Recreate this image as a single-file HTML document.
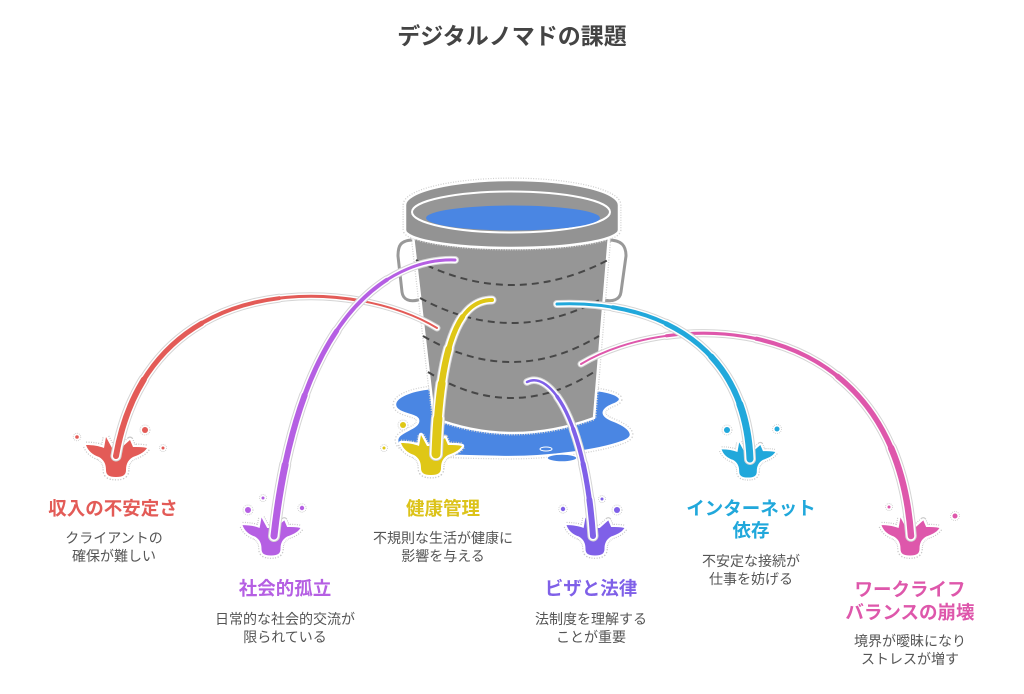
<!DOCTYPE html>
<html lang="ja">
<head>
<meta charset="utf-8">
<style>
  html,body{margin:0;padding:0;background:#fff;}
  body{width:1024px;height:694px;position:relative;overflow:hidden;
       font-family:"Liberation Sans","Noto Sans CJK JP",sans-serif;}
  svg{position:absolute;left:0;top:0;}
  .t{position:absolute;width:240px;text-align:center;font-weight:bold;font-size:18.5px;line-height:22px;white-space:nowrap;}
  .d{position:absolute;width:240px;text-align:center;font-size:14px;line-height:17.5px;color:#555;white-space:nowrap;}
  .title{position:absolute;left:0;top:21px;width:1024px;text-align:center;font-size:23px;line-height:30px;font-weight:bold;color:#444;}
  .s1{stroke-dasharray:100 100;stroke-dashoffset:-20}
  .s2{stroke-dasharray:100 100;stroke-dashoffset:-40}
  .s3{stroke-dasharray:100 100;stroke-dashoffset:-60}
  .s4{stroke-dasharray:100 100;stroke-dashoffset:-80}
</style>
</head>
<body>
<svg width="1024" height="694" viewBox="0 0 1024 694" xmlns="http://www.w3.org/2000/svg">
  <defs>
    <path id="sp" d="M -30,-3 C -23,-3 -17,-2 -12,0 L -10,-11 L -4,0 L 5,0 L 14,-8 L 17,-1 C 22,-1 27,-1 31,0 C 28,5 22,7 17,9 C 12,12 10,16 10,22 C 10,27 7,29 0,29 C -7,29 -10,27 -10,22 C -10,16 -12,12 -17,9 C -23,7 -28,3 -30,-3 Z"/>
    <path id="aR" d="M437,328 C360,280 150,262 116,456" pathLength="100" fill="none"/>
    <path id="aP" d="M455,260 C400,258 300,300 274,536" pathLength="100" fill="none"/>
    <path id="aY" d="M492,300 C460,300 440,340 436,454" pathLength="100" fill="none"/>
    <path id="aV" d="M527,382 C550,370 585,420 593,536" pathLength="100" fill="none"/>
    <path id="aC" d="M557,304 C650,300 745,340 750,459" pathLength="100" fill="none"/>
    <path id="aK" d="M581,364 C670,310 895,305 911,536" pathLength="100" fill="none"/>
  </defs>

  <!-- puddle -->
  <g>
    <path d="M 432,388 C 410,390 390,398 396,408 C 402,416 420,414 418,422 C 416,430 392,432 398,444 C 404,456 450,456 500,457 C 550,458 600,450 622,442 C 640,436 628,426 612,420 C 598,414 604,408 615,404 C 628,398 614,392 596,390 Z"
          fill="none" stroke="#cfcfcf" stroke-width="5" stroke-dasharray="1 1.5"/>
    <path d="M 432,388 C 410,390 390,398 396,408 C 402,416 420,414 418,422 C 416,430 392,432 398,444 C 404,456 450,456 500,457 C 550,458 600,450 622,442 C 640,436 628,426 612,420 C 598,414 604,408 615,404 C 628,398 614,392 596,390 Z"
          fill="#4a86e3" stroke="#fff" stroke-width="2.5"/>
    <ellipse cx="562" cy="458" rx="15" ry="4" fill="#4a86e3" stroke="#fff" stroke-width="1.5"/>
    <ellipse cx="546" cy="449" rx="6" ry="2" fill="#4a86e3" stroke="#fff" stroke-width="1"/>
  </g>

  <!-- handles -->
  <g fill="none" stroke-linecap="round">
    <path d="M414,240 C400,240 398,246 398,256 L402,292 C403,300 410,302 418,300" stroke="#fff" stroke-width="6"/>
    <path d="M414,240 C400,240 398,246 398,256 L402,292 C403,300 410,302 418,300" stroke="#999" stroke-width="3"/>
    <path d="M608,240 C622,240 626,246 626,256 L621,292 C620,300 612,302 604,300" stroke="#fff" stroke-width="6"/>
    <path d="M608,240 C622,240 626,246 626,256 L621,292 C620,300 612,302 604,300" stroke="#999" stroke-width="3"/>
  </g>

  <!-- body -->
  <path d="M413,236 L434,418 Q512,448 594,418 L609,236 Z" fill="none" stroke="#cfcfcf" stroke-width="5" stroke-dasharray="1 1.5"/>
  <path d="M413,236 L434,418 Q512,448 594,418 L609,236 Z" fill="#969696" stroke="#fff" stroke-width="2.5"/>

  <!-- dashed bands -->
  <g fill="none" stroke="#474747" stroke-width="2" stroke-dasharray="7 5">
    <path d="M416,260 Q512,310 608,260"/>
    <path d="M420,298 Q512,348 603,298"/>
    <path d="M423,336 Q512,388 599,336"/>
    <path d="M428,372 Q512,424 594,372"/>
  </g>

  <!-- rim -->
  <path d="M405,205 A107,25 0 0 1 619,205 L619,230 A107,18 0 0 1 405,230 Z" fill="none" stroke="#cfcfcf" stroke-width="5" stroke-dasharray="1 1.5"/>
  <path d="M405,205 A107,25 0 0 1 619,205 L619,230 A107,18 0 0 1 405,230 Z" fill="#939393" stroke="#fff" stroke-width="2.5"/>
  <ellipse cx="511" cy="212" rx="99" ry="20.5" fill="#969696" stroke="#fff" stroke-width="2"/>
  <ellipse cx="513" cy="218" rx="87" ry="12.5" fill="#4a86e3"/>

  <!-- splashes -->
  <g stroke-linejoin="round">
    <g stroke="#c8c8c8" stroke-width="7" stroke-dasharray="1 1.3" fill="none">
      <use href="#sp" transform="translate(116,448)"/>
      <use href="#sp" transform="translate(271,528) scale(0.95)"/>
      <use href="#sp" transform="translate(431,446)"/>
      <use href="#sp" transform="translate(595,528) scale(0.95)"/>
      <use href="#sp" transform="translate(748,452) scale(0.88)"/>
      <use href="#sp" transform="translate(910,528) scale(0.95)"/>
    </g>
    <g stroke="#fff" stroke-width="4.5" style="paint-order:stroke">
      <use href="#sp" transform="translate(116,448)" fill="#e35b57"/>
      <use href="#sp" transform="translate(271,528) scale(0.95)" fill="#b55fe3"/>
      <use href="#sp" transform="translate(431,446)" fill="#dfc716"/>
      <use href="#sp" transform="translate(595,528) scale(0.95)" fill="#7f60e8"/>
      <use href="#sp" transform="translate(748,452) scale(0.88)" fill="#21a8db"/>
      <use href="#sp" transform="translate(910,528) scale(0.95)" fill="#de57ab"/>
    </g>
  </g>

  <!-- droplets -->
  <g stroke="#c8c8c8" stroke-width="0.8" stroke-dasharray="1 1" fill="#fff">
    <circle cx="77" cy="437" r="3.8"/><circle cx="145" cy="430" r="5"/><circle cx="163" cy="448" r="3.5"/>
    <circle cx="248" cy="510" r="5"/><circle cx="263" cy="498" r="3.5"/><circle cx="302" cy="508" r="4.2"/>
    <circle cx="403" cy="425" r="5"/><circle cx="384" cy="448" r="3.5"/>
    <circle cx="563" cy="509" r="4.2"/><circle cx="602" cy="499" r="3.5"/><circle cx="617" cy="510" r="5"/>
    <circle cx="727" cy="430" r="5"/><circle cx="777" cy="429" r="4.5"/>
    <circle cx="889" cy="507" r="3.5"/><circle cx="955" cy="516" r="4.5"/>
  </g>
  <g>
    <circle cx="77" cy="437" r="1.8" fill="#e35b57"/><circle cx="145" cy="430" r="3" fill="#e35b57"/><circle cx="163" cy="448" r="1.5" fill="#e35b57"/>
    <circle cx="248" cy="510" r="3" fill="#b55fe3"/><circle cx="263" cy="498" r="1.5" fill="#b55fe3"/><circle cx="302" cy="508" r="2.2" fill="#b55fe3"/>
    <circle cx="403" cy="425" r="3" fill="#dfc716"/><circle cx="384" cy="448" r="1.5" fill="#dfc716"/>
    <circle cx="563" cy="509" r="2.2" fill="#7f60e8"/><circle cx="602" cy="499" r="1.5" fill="#7f60e8"/><circle cx="617" cy="510" r="3" fill="#7f60e8"/>
    <circle cx="727" cy="430" r="3" fill="#21a8db"/><circle cx="777" cy="429" r="2.5" fill="#21a8db"/>
    <circle cx="889" cy="507" r="1.5" fill="#de57ab"/><circle cx="955" cy="516" r="2.5" fill="#de57ab"/>
  </g>

  <!-- arcs (tapered) -->
  <g fill="none" stroke-linecap="round">
    <!-- pink -->
    <g stroke="#d4d4d4"><use href="#aK" stroke-width="7"/><use href="#aK" class="s1" stroke-width="8.1"/><use href="#aK" class="s2" stroke-width="9.2"/><use href="#aK" class="s3" stroke-width="10.4"/><use href="#aK" class="s4" stroke-width="11.5"/></g>
    <g stroke="#fff"><use href="#aK" stroke-width="5"/><use href="#aK" class="s1" stroke-width="6.1"/><use href="#aK" class="s2" stroke-width="7.2"/><use href="#aK" class="s3" stroke-width="8.4"/><use href="#aK" class="s4" stroke-width="9.5"/></g>
    <g stroke="#de57ab"><use href="#aK" stroke-width="2"/><use href="#aK" class="s1" stroke-width="3.1"/><use href="#aK" class="s2" stroke-width="4.2"/><use href="#aK" class="s3" stroke-width="5.4"/><use href="#aK" class="s4" stroke-width="6.5"/></g>
    <!-- cyan -->
    <g stroke="#d4d4d4"><use href="#aC" stroke-width="8"/><use href="#aC" class="s1" stroke-width="9"/><use href="#aC" class="s2" stroke-width="10"/><use href="#aC" class="s3" stroke-width="11"/><use href="#aC" class="s4" stroke-width="12"/></g>
    <g stroke="#fff"><use href="#aC" stroke-width="6"/><use href="#aC" class="s1" stroke-width="7"/><use href="#aC" class="s2" stroke-width="8"/><use href="#aC" class="s3" stroke-width="9"/><use href="#aC" class="s4" stroke-width="10"/></g>
    <g stroke="#21a8db"><use href="#aC" stroke-width="3"/><use href="#aC" class="s1" stroke-width="4"/><use href="#aC" class="s2" stroke-width="5"/><use href="#aC" class="s3" stroke-width="6"/><use href="#aC" class="s4" stroke-width="7"/></g>
    <!-- red -->
    <g stroke="#d4d4d4"><use href="#aR" stroke-width="7"/><use href="#aR" class="s1" stroke-width="8"/><use href="#aR" class="s2" stroke-width="9"/><use href="#aR" class="s3" stroke-width="10"/><use href="#aR" class="s4" stroke-width="11"/></g>
    <g stroke="#fff"><use href="#aR" stroke-width="5"/><use href="#aR" class="s1" stroke-width="6"/><use href="#aR" class="s2" stroke-width="7"/><use href="#aR" class="s3" stroke-width="8"/><use href="#aR" class="s4" stroke-width="9"/></g>
    <g stroke="#e35b57"><use href="#aR" stroke-width="2"/><use href="#aR" class="s1" stroke-width="3"/><use href="#aR" class="s2" stroke-width="4"/><use href="#aR" class="s3" stroke-width="5"/><use href="#aR" class="s4" stroke-width="6"/></g>
    <!-- purple -->
    <g stroke="#d4d4d4"><use href="#aP" stroke-width="8"/><use href="#aP" class="s1" stroke-width="9"/><use href="#aP" class="s2" stroke-width="10"/><use href="#aP" class="s3" stroke-width="11"/><use href="#aP" class="s4" stroke-width="12"/></g>
    <g stroke="#fff"><use href="#aP" stroke-width="6"/><use href="#aP" class="s1" stroke-width="7"/><use href="#aP" class="s2" stroke-width="8"/><use href="#aP" class="s3" stroke-width="9"/><use href="#aP" class="s4" stroke-width="10"/></g>
    <g stroke="#b55fe3"><use href="#aP" stroke-width="3"/><use href="#aP" class="s1" stroke-width="4"/><use href="#aP" class="s2" stroke-width="5"/><use href="#aP" class="s3" stroke-width="6"/><use href="#aP" class="s4" stroke-width="7"/></g>
    <!-- yellow -->
    <g stroke="#d4d4d4"><use href="#aY" stroke-width="9"/><use href="#aY" class="s1" stroke-width="10.2"/><use href="#aY" class="s2" stroke-width="11.5"/><use href="#aY" class="s3" stroke-width="12.8"/><use href="#aY" class="s4" stroke-width="14"/></g>
    <g stroke="#fff"><use href="#aY" stroke-width="7"/><use href="#aY" class="s1" stroke-width="8.2"/><use href="#aY" class="s2" stroke-width="9.5"/><use href="#aY" class="s3" stroke-width="10.8"/><use href="#aY" class="s4" stroke-width="12"/></g>
    <g stroke="#dfc716"><use href="#aY" stroke-width="4"/><use href="#aY" class="s1" stroke-width="5.2"/><use href="#aY" class="s2" stroke-width="6.5"/><use href="#aY" class="s3" stroke-width="7.8"/><use href="#aY" class="s4" stroke-width="9"/></g>
    <!-- violet -->
    <g stroke="#d4d4d4"><use href="#aV" stroke-width="7.5"/><use href="#aV" class="s1" stroke-width="8.4"/><use href="#aV" class="s2" stroke-width="9.2"/><use href="#aV" class="s3" stroke-width="10.1"/><use href="#aV" class="s4" stroke-width="11"/></g>
    <g stroke="#fff"><use href="#aV" stroke-width="5.5"/><use href="#aV" class="s1" stroke-width="6.4"/><use href="#aV" class="s2" stroke-width="7.2"/><use href="#aV" class="s3" stroke-width="8.1"/><use href="#aV" class="s4" stroke-width="9"/></g>
    <g stroke="#7f60e8"><use href="#aV" stroke-width="2.5"/><use href="#aV" class="s1" stroke-width="3.4"/><use href="#aV" class="s2" stroke-width="4.2"/><use href="#aV" class="s3" stroke-width="5.1"/><use href="#aV" class="s4" stroke-width="6"/></g>
  </g>
</svg>

<div class="title">デジタルノマドの課題</div>

<div class="t" style="left:-7px;top:498px;color:#e35b57;">収入の不安定さ</div>
<div class="d" style="left:-6px;top:530px;">クライアントの<br>確保が難しい</div>

<div class="t" style="left:165px;top:578px;color:#b55fe3;">社会的孤立</div>
<div class="d" style="left:165px;top:611px;">日常的な社会的交流が<br>限られている</div>

<div class="t" style="left:323px;top:498px;color:#dcc31a;">健康管理</div>
<div class="d" style="left:323px;top:530px;">不規則な生活が健康に<br>影響を与える</div>

<div class="t" style="left:471px;top:578px;color:#7f60e8;">ビザと法律</div>
<div class="d" style="left:471px;top:611px;">法制度を理解する<br>ことが重要</div>

<div class="t" style="left:631px;top:498px;color:#21a8db;">インターネット<br>依存</div>
<div class="d" style="left:631px;top:553px;">不安定な接続が<br>仕事を妨げる</div>

<div class="t" style="left:790px;top:578px;line-height:23px;color:#de57ab;">ワークライフ<br>バランスの崩壊</div>
<div class="d" style="left:790px;top:633px;">境界が曖昧になり<br>ストレスが増す</div>
</body>
</html>
